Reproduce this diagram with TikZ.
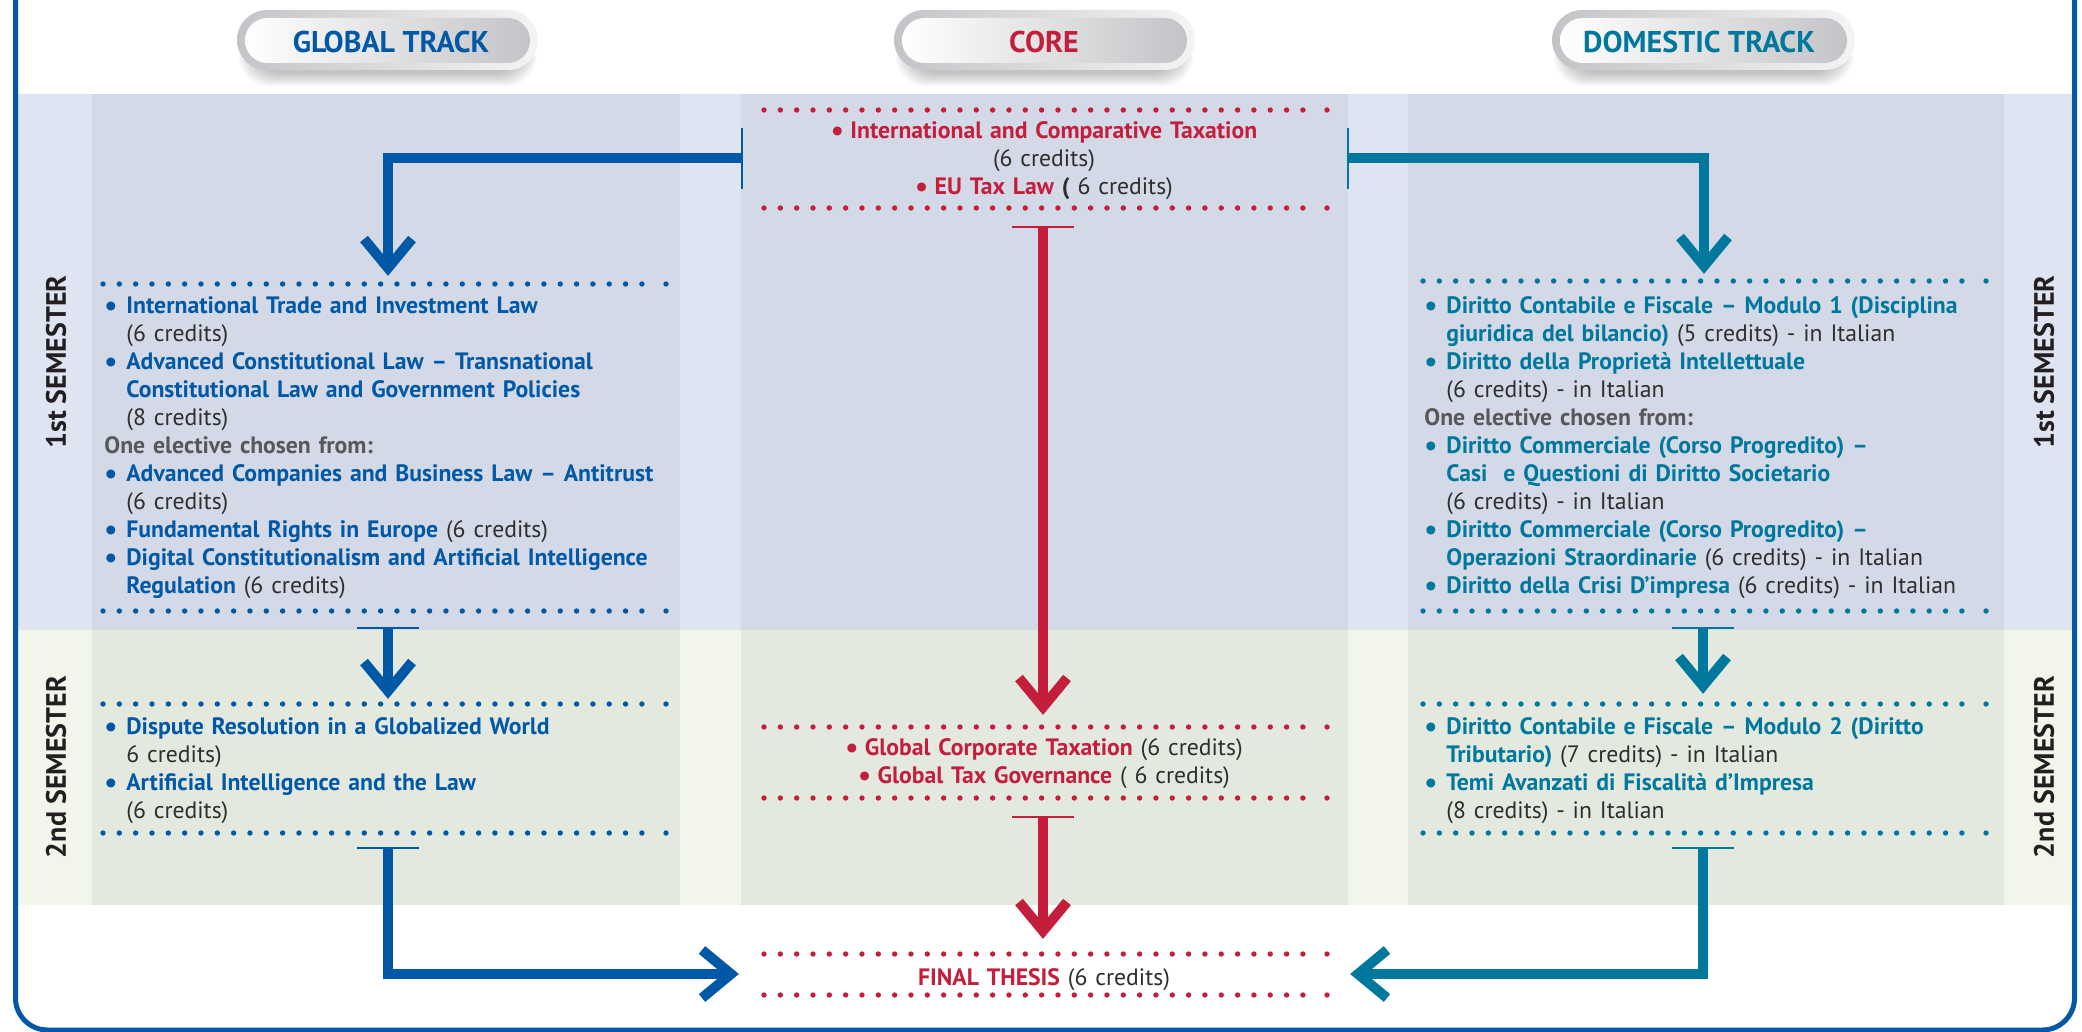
\documentclass[tikz,border=0pt]{standalone}
\usepackage{fontspec}
\setmainfont{PT Sans}
\usetikzlibrary{calc}
\definecolor{gblue}{HTML}{0058A7}
\definecolor{gteal}{HTML}{00789E}
\definecolor{cred}{HTML}{C51E3C}
\definecolor{txtgray}{HTML}{2E2E2E}
\definecolor{elgray}{HTML}{58585A}
\definecolor{semcol}{HTML}{231F20}
\definecolor{bandAout}{HTML}{DFE4F2}
\definecolor{bandAin}{HTML}{D3D9E6}
\definecolor{bandBout}{HTML}{F2F6EA}
\definecolor{bandBin}{HTML}{E3E9DF}
\definecolor{pillgrayA}{HTML}{C3C4C7}
\definecolor{pillgrayB}{HTML}{F4F4F5}
\newcommand{\bulglyph}[1]{\raisebox{-0.9pt}{\fontsize{14.5}{14}\selectfont\color{#1}\textbf{•}}}
\newcommand{\bul}[1]{\makebox[11pt][l]{\bulglyph{#1}}}
\newcommand{\cbul}[1]{\makebox[9.8pt][l]{\bulglyph{#1}}}
\newcommand{\ind}{\hspace*{11pt}}
\newcommand{\gb}[1]{\textbf{\color{gblue}#1}}
\newcommand{\dt}[1]{\textbf{\color{gteal}#1}}
\newcommand{\rd}[1]{\textbf{\color{cred}#1}}
\newcommand{\el}[1]{\textbf{\color{elgray}#1}}
\newcommand{\fst}{\rule{0pt}{10pt}}
\newcommand{\pillshape}[2]{%
  \foreach \k in {0,...,6}{\fill[black,opacity=0.035,rounded corners=15pt] ({#1+14-2*\k},{26+\k}) rectangle ({#2-14+2*\k},{74+2*\k});}
  \shade[rounded corners=15pt,left color=pillgrayA,right color=pillgrayB] (#1,10) rectangle (#2,70);
  \shade[rounded corners=11.25pt,left color=white,right color=pillgrayA] ({#1+8},18) rectangle ({#2-8},63);}
\newcommand{\chevD}[2]{\draw[line width=5pt,#1] ($(#2)+(-24,-37)$) -- ($(#2)+(0,-8)$) -- ($(#2)+(24,-37)$);}
\newcommand{\chevR}[2]{\draw[line width=5pt,#1] ($(#2)+(-37,-24)$) -- ($(#2)+(-8,0)$) -- ($(#2)+(-37,24)$);}
\newcommand{\chevL}[2]{\draw[line width=5pt,#1] ($(#2)+(37,-24)$) -- ($(#2)+(8,0)$) -- ($(#2)+(37,24)$);}
\tikzset{
  txt/.style={inner sep=0pt,text width=340pt,align=left,font=\fontsize{11.85}{14}\selectfont,text=txtgray},
  ctxt/.style={inner sep=0pt,text width=280pt,align=center,font=\fontsize{11.85}{14}\selectfont,text=txtgray},
  head/.style={inner sep=0pt,font=\fontsize{15}{18}\selectfont\bfseries},
  semlab/.style={inner sep=0pt,rotate=90,font=\fontsize{14}{16}\selectfont\bfseries,text=semcol},
  conn/.style={line width=5pt,line join=miter},
  tbar/.style={line width=1.4pt},
  dotrow/.style={line width=2.7pt,line cap=round,dash pattern=on 0pt off 8.165pt},
}
\newcommand{\dotrow}[3]{\draw[dotrow,#1] (#2,#3) -- ({#2+540},#3); \fill[#1] ({#2+563},#3) circle (1.35pt);}
\begin{document}
\begin{tikzpicture}[x=0.5pt,y=-0.5pt]
\useasboundingbox (0,0) rectangle (2082,1032);
\clip (0,0) rectangle (2082,1032);
\fill[white] (0,0) rectangle (2082,1032);
% bands
\fill[bandAout] (18,94) rectangle (2072,630);
\fill[bandBout] (18,630) rectangle (2072,905);
\foreach \a/\b in {92/680,741/1348,1408/2004}{
  \fill[bandAin] (\a,94) rectangle (\b,630);
  \fill[bandBin] (\a,630) rectangle (\b,905);
}
% frame
\draw[gblue,line width=2.5pt,rounded corners=16pt] (15.5,-20) -- (15.5,1030) -- (2074.5,1030) -- (2074.5,-20);
% header pills
\pillshape{237}{538}
\pillshape{894}{1195}
\pillshape{1552}{1855}
\node[head,text=gblue] (hg) at (391,42) {GLOBAL TRACK};
\node[head,text=cred] (hc) at (1044,42) {CORE};
\node[head,text=gteal] (hd) at (1699,42) {DOMESTIC TRACK};
% semester labels
\node[semlab] (s1l) at (56,362) {1st SEMESTER};
\node[semlab] (s1r) at (2044,362) {1st SEMESTER};
\node[semlab] (s2l) at (56,767) {2nd SEMESTER};
\node[semlab] (s2r) at (2044,767) {2nd SEMESTER};
% dotted rows
\dotrow{gblue}{103}{284}
\dotrow{gblue}{103}{611}
\dotrow{gblue}{103}{704}
\dotrow{gblue}{103}{833}
\dotrow{cred}{764}{110}
\dotrow{cred}{764}{208}
\dotrow{cred}{764}{727}
\dotrow{cred}{764}{798}
\dotrow{cred}{764}{954}
\dotrow{cred}{764}{995}
\dotrow{gteal}{1423}{281}
\dotrow{gteal}{1423}{611}
\dotrow{gteal}{1423}{704}
\dotrow{gteal}{1423}{833}
% core texts
\node[ctxt,anchor=north] (c1) at (1044,118) {\fst\cbul{cred}\rd{International and Comparative Taxation}\\(6 credits)\\\cbul{cred}\rd{EU Tax Law} \textbf{(} 6 credits)};
\node[ctxt,anchor=north] (c2) at (1044,735) {\fst\cbul{cred}\rd{Global Corporate Taxation} (6 credits)\\\cbul{cred}\rd{Global Tax Governance} ( 6 credits)};
\node[ctxt,anchor=north] (c3) at (1044,965) {\fst\rd{FINAL THESIS} (6 credits)};
% global texts
\node[txt,anchor=north west] (g1) at (104,293) {\fst\bul{gblue}\gb{International Trade and Investment Law}\\
\ind(6 credits)\\
\bul{gblue}\gb{Advanced Constitutional Law – Transnational}\\
\ind\gb{Constitutional Law and Government Policies}\\
\ind(8 credits)\\
\el{One elective chosen from:}\\
\bul{gblue}\gb{Advanced Companies and Business Law – Antitrust}\\
\ind(6 credits)\\
\bul{gblue}\gb{Fundamental Rights in Europe} (6 credits)\\
\bul{gblue}\gb{Digital Constitutionalism and Artificial Intelligence}\\
\ind\gb{Regulation} (6 credits)};
\node[txt,anchor=north west] (g2) at (104,714) {\fst\bul{gblue}\gb{Dispute Resolution in a Globalized World}\\
\ind 6 credits)\\
\bul{gblue}\gb{Artificial Intelligence and the Law}\\
\ind(6 credits)};
% domestic texts
\node[txt,anchor=north west] (d1) at (1424,293) {\fst\bul{gteal}\dt{Diritto Contabile e Fiscale – Modulo 1 (Disciplina}\\
\ind\dt{giuridica del bilancio)} (5 credits) - in Italian\\
\bul{gteal}\dt{Diritto della Proprietà Intellettuale}\\
\ind(6 credits) - in Italian\\
\el{One elective chosen from:}\\
\bul{gteal}\dt{Diritto Commerciale (Corso Progredito) –}\\
\ind\dt{Casi\ \ e Questioni di Diritto Societario}\\
\ind(6 credits) - in Italian\\
\bul{gteal}\dt{Diritto Commerciale (Corso Progredito) –}\\
\ind\dt{Operazioni Straordinarie} (6 credits) - in Italian\\
\bul{gteal}\dt{Diritto della Crisi D’impresa} (6 credits) - in Italian};
\node[txt,anchor=north west] (d2) at (1424,714) {\fst\bul{gteal}\dt{Diritto Contabile e Fiscale – Modulo 2 (Diritto}\\
\ind\dt{Tributario)} (7 credits) - in Italian\\
\bul{gteal}\dt{Temi Avanzati di Fiscalità d’Impresa}\\
\ind(8 credits) - in Italian};
% connector coordinates
\coordinate (c1L) at (742,158);
\coordinate (c1R) at (1348,158);
\coordinate (g1T) at (388,276);
\coordinate (d1T) at (1704,274);
\coordinate (c1B) at (1043,227);
\coordinate (c2T) at (1043,715);
\coordinate (c2B) at (1043,817);
\coordinate (c3T) at (1043,939);
\coordinate (g1B) at (388,628);
\coordinate (g2T) at (388,699);
\coordinate (g2B) at (388,848);
\coordinate (c3L) at (739,974);
\coordinate (d1B) at (1703,628);
\coordinate (d2T) at (1703,694);
\coordinate (d2B) at (1703,848);
\coordinate (c3R) at (1350,974);
% ticks and T-bars
\draw[tbar,gblue] ($(c1L)+(0,-30)$) -- ($(c1L)+(0,31)$);
\draw[tbar,gteal] ($(c1R)+(0,-30)$) -- ($(c1R)+(0,31)$);
\draw[tbar,cred] ($(c1B)+(-31,0)$) -- ($(c1B)+(31,0)$);
\draw[tbar,cred] ($(c2B)+(-31,0)$) -- ($(c2B)+(31,0)$);
\draw[tbar,gblue] ($(g1B)+(-31,0)$) -- ($(g1B)+(31,0)$);
\draw[tbar,gblue] ($(g2B)+(-31,0)$) -- ($(g2B)+(31,0)$);
\draw[tbar,gteal] ($(d1B)+(-31,0)$) -- ($(d1B)+(31,0)$);
\draw[tbar,gteal] ($(d2B)+(-31,0)$) -- ($(d2B)+(31,0)$);
% connectors
\draw[conn,gblue] (c1L) -| ($(g1T)+(0,-10)$);
\chevD{gblue}{g1T}
\draw[conn,gteal] (c1R) -| ($(d1T)+(0,-10)$);
\chevD{gteal}{d1T}
\draw[conn,cred] (c1B) -- ($(c2T)+(0,-10)$);
\chevD{cred}{c2T}
\draw[conn,cred] (c2B) -- ($(c3T)+(0,-10)$);
\chevD{cred}{c3T}
\draw[conn,gblue] (g1B) -- ($(g2T)+(0,-10)$);
\chevD{gblue}{g2T}
\draw[conn,gteal] (d1B) -- ($(d2T)+(0,-10)$);
\chevD{gteal}{d2T}
\draw[conn,gblue] (g2B) |- ($(c3L)+(-10,0)$);
\chevR{gblue}{c3L}
\draw[conn,gteal] (d2B) |- ($(c3R)+(10,0)$);
\chevL{gteal}{c3R}
\end{tikzpicture}
\end{document}
